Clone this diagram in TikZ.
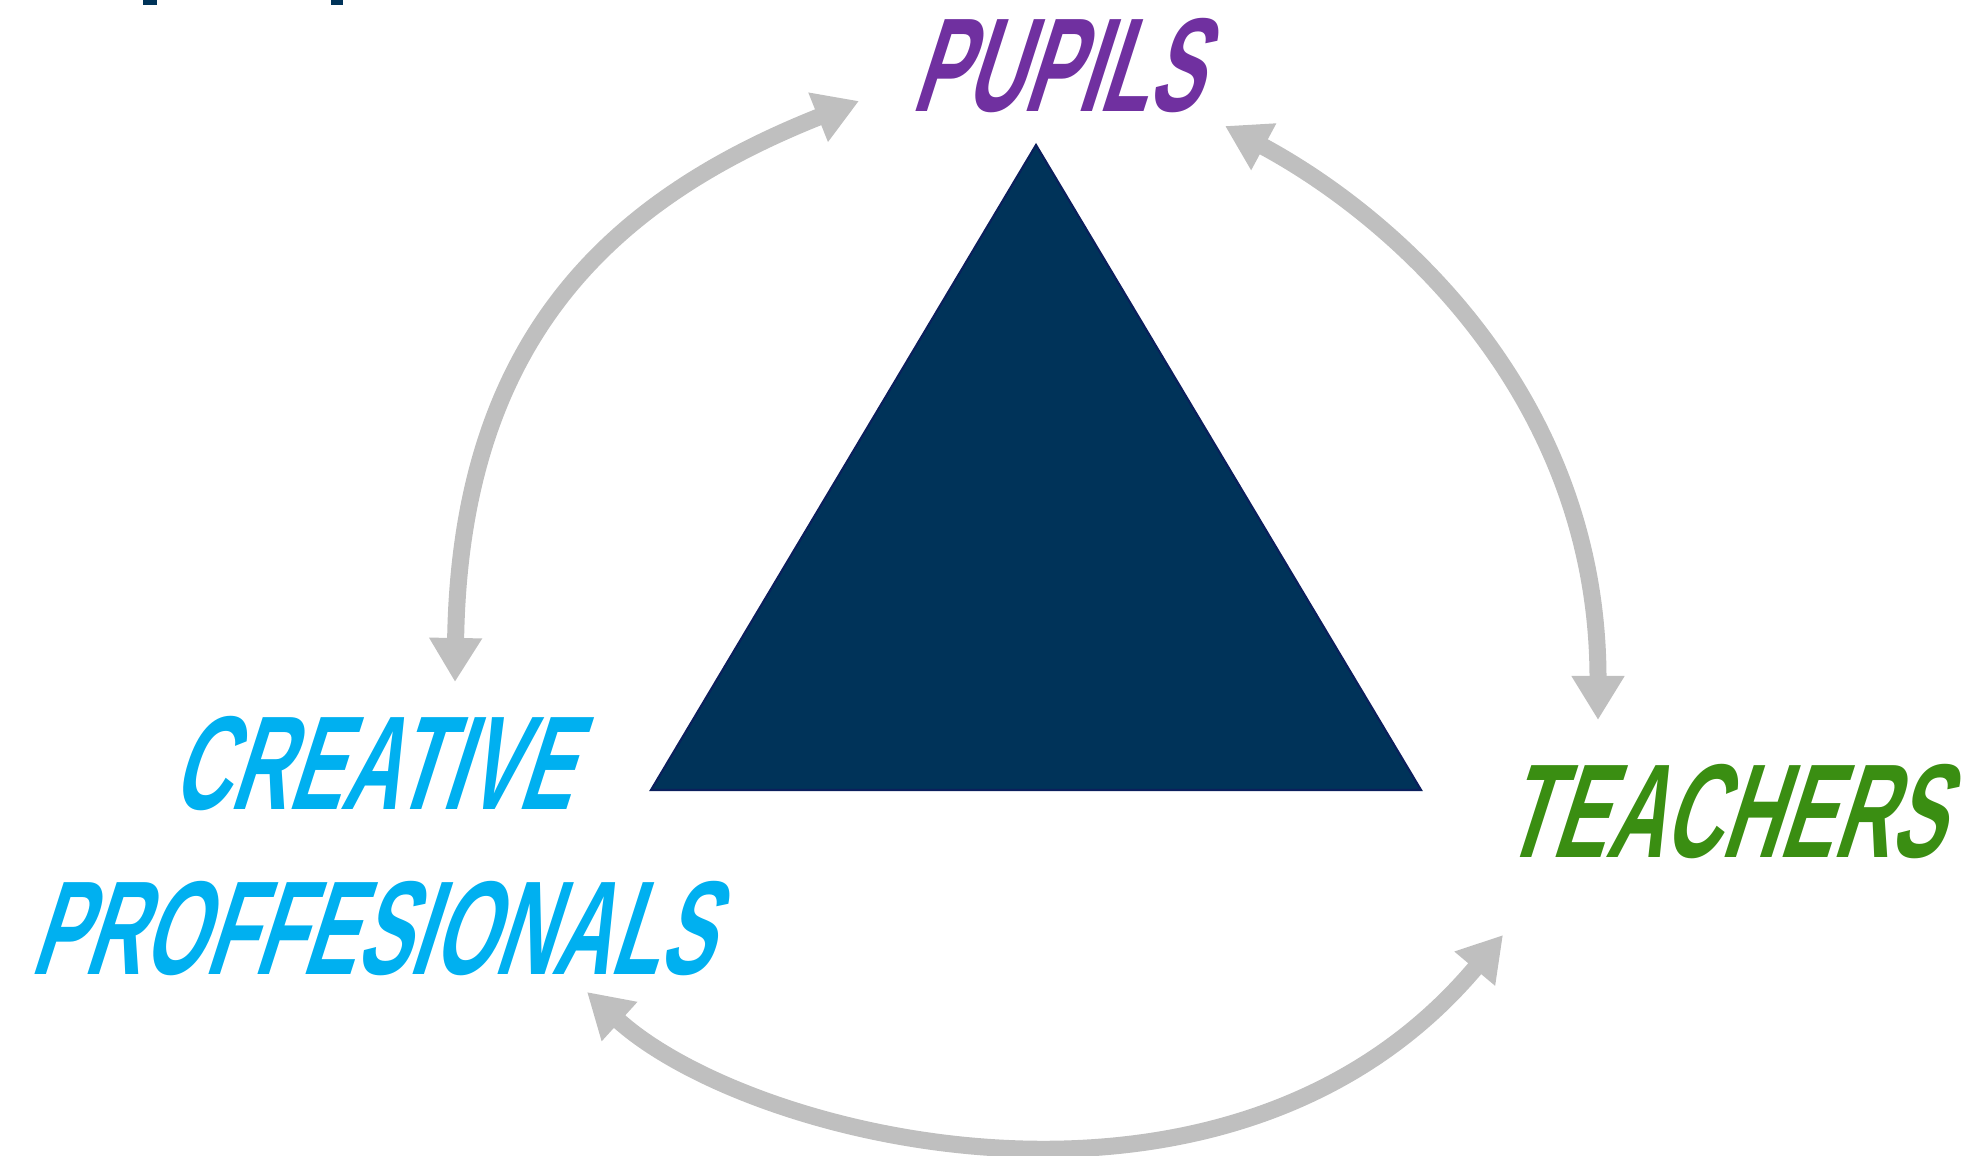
\documentclass[tikz,border=0pt]{standalone}
\usepackage{fontspec}
\usetikzlibrary{arrows.meta}
\newfontfamily\handfont[FakeStretch=0.6,FakeSlant=0.32]{Liberation Sans Bold}
\definecolor{navy}{HTML}{003359}
\definecolor{navyedge}{HTML}{0B1F5C}
\definecolor{pupilpurple}{HTML}{7030A0}
\definecolor{creativecyan}{HTML}{00B0F0}
\definecolor{teachgreen}{HTML}{3A8E12}
\definecolor{loopgray}{HTML}{BFBFBF}
\begin{document}
\begin{tikzpicture}[>={Triangle[width=0.5cm,length=0.44cm]},
  label/.style={font=\handfont\fontsize{38}{47}\selectfont, align=center, inner sep=0pt},
  loop/.style={<->, draw=loopgray, line width=0.17cm}]
\useasboundingbox (0,0) rectangle (19.81,-11.56);
% cut-off marks at the top edge
\fill[navy] (1.43,0) rectangle (1.57,-0.05);
\fill[navy] (3.31,0) rectangle (3.43,-0.05);
% triangle
\coordinate (apex) at (10.36,-1.45);
\coordinate (baseL) at (6.51,-7.90);
\coordinate (baseR) at (14.21,-7.90);
\filldraw[fill=navy, draw=navyedge, line width=0.6pt] (apex) -- (baseR) -- (baseL) -- cycle;
% labels
\node[label, text=pupilpurple] (pupils) at (10.55,-0.66) {PUPILS};
\node[label, text=teachgreen] (teachers) at (17.22,-8.12) {TEACHERS};
\node[label, text=creativecyan] (creative) at (3.70,-8.46) {CREATIVE\\PROFFESIONALS};
% arrow ends
\coordinate (c1) at (4.55,-6.82);
\coordinate (p1) at (8.59,-1.01);
\coordinate (p2) at (12.25,-1.26);
\coordinate (t2) at (15.98,-7.20);
\coordinate (c3) at (5.87,-9.92);
\coordinate (t3) at (15.03,-9.35);
\draw[loop] (c1) .. controls (4.6,-3.4) and (6.1,-2.0) .. (p1);
\draw[loop] (p2) .. controls (14.0,-2.2) and (15.98,-4.0) .. (t2);
\draw[loop] (c3) .. controls (7.5,-11.4) and (12.3,-12.6) .. (t3);
\end{tikzpicture}
\end{document}
